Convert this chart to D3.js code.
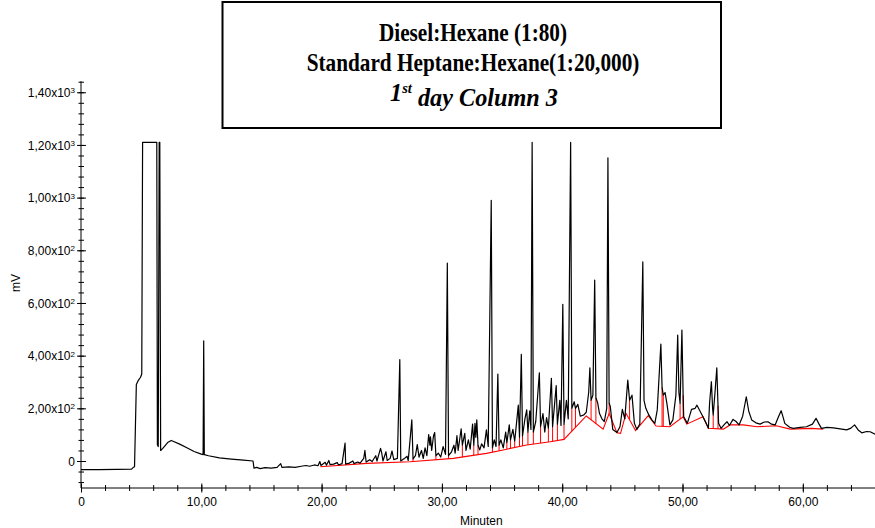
<!DOCTYPE html>
<html>
<head>
<meta charset="utf-8">
<script src="https://cdn.jsdelivr.net/npm/d3@7"></script>
<style>
  body { margin: 0; background: #fff; }
  svg { display: block; }
</style>
</head>
<body>
<div id="container"></div>
<script>
const width = 875,
  height = 528

// chromatogram trace [minutes, mV]
const signal = [
  [0, -33], [1.5, -33], [3, -32], [4.2, -31], [4.35, -24], [4.45, -22], [4.6, 290], [4.75, 305],
  [4.95, 318], [5.05, 330], [5.12, 1210], [6.3, 1210], [6.35, 62], [6.42, 55], [6.5, 1210],
  [6.55, 1210], [6.62, 40], [6.8, 48], [7.2, 70], [7.5, 78], [7.7, 74], [8.2, 64], [8.8, 50],
  [9.4, 36], [10.0, 26], [10.15, 24], [10.2, 456], [10.25, 24], [10.6, 20], [11.5, 12], [12.5, 7],
  [13.5, 3], [14.3, 0], [14.38, -27], [14.6, -24], [14.9, -29], [15.3, -25], [15.8, -27],
  [16.3, -24], [16.6, -10], [16.7, -24], [17.3, -22], [17.8, -24], [18.3, -20], [18.7, -17],
  [19.0, -20], [19.4, -15], [19.7, -18], [19.85, -2], [19.95, -17], [20.3, -5], [20.4, -16],
  [20.6, 2], [20.7, -14], [21.0, -12], [21.3, -6], [21.4, -15], [21.7, -10], [21.95, 68],
  [22.0, -12], [22.3, -8], [22.6, 0], [22.7, -10], [23.0, -4], [23.2, -8], [23.5, 10], [23.6, 40],
  [23.7, -4], [24.0, 5], [24.2, -2], [24.5, 20], [24.6, 0], [24.9, 48], [25.0, 30], [25.1, 0],
  [25.35, 35], [25.45, 2], [25.7, 10], [25.85, 38], [26.0, 5], [26.3, 10], [26.5, 385], [26.58, 0],
  [26.9, 10], [27.1, 18], [27.2, 2], [27.5, 156], [27.6, 8], [27.8, 20], [27.95, 62], [28.1, 15],
  [28.3, 40], [28.45, 10], [28.6, 50], [28.75, 20], [28.9, 100], [29.0, 60], [29.05, 92],
  [29.15, 40], [29.3, 95], [29.4, 108], [29.5, 20], [29.7, 30], [29.9, 15], [30.1, 55], [30.3, 25],
  [30.45, 751], [30.55, 20], [30.8, 35], [31.0, 60], [31.1, 30], [31.25, 96], [31.35, 40],
  [31.6, 122], [31.7, 60], [31.9, 105], [32.0, 40], [32.2, 80], [32.35, 45], [32.55, 140],
  [32.65, 60], [32.75, 143], [32.82, 90], [32.9, 156], [33.0, 60], [33.15, 42], [33.3, 65],
  [33.5, 50], [33.7, 118], [33.85, 55], [34.1, 990], [34.2, 50], [34.35, 80], [34.5, 55],
  [34.65, 330], [34.75, 60], [34.9, 80], [35.1, 50], [35.3, 110], [35.4, 70], [35.6, 137],
  [35.7, 80], [35.9, 120], [36.05, 75], [36.35, 212], [36.45, 90], [36.6, 405], [36.7, 95],
  [36.9, 160], [37.05, 194], [37.15, 110], [37.3, 190], [37.4, 120], [37.5, 1210], [37.6, 110],
  [37.8, 150], [38.1, 335], [38.2, 130], [38.4, 180], [38.55, 110], [38.7, 165], [38.85, 125],
  [39.1, 314], [39.2, 130], [39.5, 286], [39.6, 140], [39.8, 230], [39.9, 135], [40.05, 595],
  [40.15, 140], [40.35, 230], [40.5, 160], [40.7, 1210], [40.8, 200], [41.0, 225], [41.1, 200],
  [41.3, 215], [41.5, 170], [41.8, 175], [42.0, 185], [42.2, 260], [42.3, 354], [42.4, 230],
  [42.55, 250], [42.7, 687], [42.8, 240], [42.95, 220], [43.1, 180], [43.3, 160], [43.5, 150],
  [43.7, 200], [43.8, 1151], [43.9, 220], [44.0, 206], [44.2, 120], [44.55, 108], [44.8, 130],
  [45.0, 196], [45.2, 160], [45.45, 307], [45.6, 231], [45.8, 250], [46.0, 143], [46.2, 120],
  [46.45, 140], [46.7, 756], [46.8, 230], [46.95, 200], [47.2, 175], [47.45, 156], [47.7, 143],
  [47.9, 194], [48.2, 444], [48.3, 280], [48.4, 250], [48.55, 260], [48.7, 219], [48.95, 137],
  [49.2, 156], [49.45, 250], [49.6, 478], [49.7, 260], [49.8, 219], [49.95, 497], [50.05, 250],
  [50.1, 168], [50.4, 143], [50.75, 196], [51.05, 200], [51.2, 212], [51.45, 190], [51.7, 168],
  [52.0, 140], [52.15, 124], [52.25, 220], [52.4, 301], [52.5, 200], [52.55, 175], [52.7, 260],
  [52.85, 354], [52.95, 210], [53.0, 143], [53.2, 124], [53.5, 140], [53.7, 149], [53.9, 135],
  [54.2, 158], [54.45, 150], [54.7, 137], [55.0, 170], [55.3, 244], [55.5, 190], [55.75, 156],
  [56.1, 145], [56.45, 140], [56.8, 148], [57.1, 149], [57.4, 140], [57.7, 137], [57.95, 165],
  [58.2, 191], [58.4, 160], [58.5, 143], [58.9, 128], [59.2, 124], [59.8, 128], [60.3, 130],
  [60.8, 140], [61.1, 162], [61.35, 140], [61.55, 124], [62.0, 128], [62.55, 126], [63.1, 122],
  [63.65, 118], [64.0, 125], [64.3, 137], [64.6, 118], [64.9, 107], [65.3, 112], [65.6, 111],
  [66.0, 102]
]

// integration baseline (red) [minutes, mV]
const baseline = [
  [19.9, -22], [23.75, -9], [27.35, -3], [30.95, 10], [33.7, 29], [35.1, 42], [37.05, 61],
  [39.0, 73], [40.15, 82], [42.0, 171], [43.4, 121], [43.9, 180], [44.55, 107], [44.85, 105],
  [45.3, 181], [46.1, 116], [47.15, 172], [47.8, 133], [48.95, 130], [50.05, 168], [50.35, 140],
  [51.7, 168], [52.15, 124], [53.4, 121], [53.95, 137], [55.05, 137], [56.2, 130], [57.8, 134],
  [58.95, 121], [60.7, 124], [61.7, 121]
]

// red drop lines at peak boundaries (minutes)
const dropTimes = [27.6, 29.5, 30.55, 31.7, 32.65, 33.0, 34.2, 34.75, 35.4, 35.7, 36.05, 36.45,
  36.7, 37.15, 37.6, 38.2, 38.85, 39.2, 39.6, 40.15, 40.8, 41.1, 42.4, 42.8, 43.9, 45.2, 45.6,
  48.3, 48.4, 49.8, 50.05, 52.55, 52.95]

const xMajor = [0, 10, 20, 30, 40, 50, 60]
const xMinor = d3.range(0, 67, 2)
const yMajor = [0, 200, 400, 600, 800, 1000, 1200, 1400]
const yMinor = d3.range(-80, 1441, 40)

const titleLines = ["Diesel:Hexane (1:80)", "Standard Heptane:Hexane(1:20,000)"]

// SCALES
const xScale = d3.scaleLinear()
  .domain([0, 66])
  .range([81, 875])

const yScale = d3.scaleLinear()
  .domain([-102.5, 1442])
  .range([488, 81.2])

const svg = d3.select("#container")
  .append("svg")
  .attr("width", width)
  .attr("height", height)
  .style("background", "#fff")

// red integration marks first, trace on top
const valueAt = (series, t) => {
  const i = d3.bisector(d => d[0]).left(series, t)
  if (i <= 0) return series[0][1]
  if (i >= series.length) return series[series.length - 1][1]
  const a = series[i - 1], b = series[i]
  return a[1] + (b[1] - a[1]) * (t - a[0]) / (b[0] - a[0])
}

svg.append("g")
  .selectAll("line")
  .data(dropTimes)
  .join("line")
  .attr("x1", d => xScale(d))
  .attr("x2", d => xScale(d))
  .attr("y1", d => yScale(valueAt(baseline, d)))
  .attr("y2", d => yScale(valueAt(signal, d)))
  .attr("stroke", "#ff0000")
  .attr("stroke-width", 1)

const lineGen = d3.line()
  .x(d => xScale(d[0]))
  .y(d => yScale(d[1]))

svg.append("path")
  .datum(baseline)
  .attr("fill", "none")
  .attr("stroke", "#ff0000")
  .attr("stroke-width", 1.1)
  .attr("d", lineGen)

svg.append("path")
  .datum(signal)
  .attr("fill", "none")
  .attr("stroke", "#000")
  .attr("stroke-width", 1.2)
  .attr("stroke-linejoin", "round")
  .attr("d", lineGen)

// AXES
const fontFam = "'Liberation Sans', Arial, sans-serif"

const xMinorAxis = svg.append("g")
  .attr("transform", `translate(0,488)`)
  .call(d3.axisBottom(xScale).tickValues(xMinor).tickSize(0).tickFormat(""))
xMinorAxis.select(".domain").remove()
xMinorAxis.selectAll(".tick line").attr("y1", -3).attr("y2", 3).attr("stroke", "#000")

const xAxis = svg.append("g")
  .attr("transform", `translate(0,488)`)
  .call(d3.axisBottom(xScale).tickValues(xMajor).tickSizeOuter(0)
    .tickFormat(d => d === 0 ? "0" : d3.format(".2f")(d).replace(".", ",")))
xAxis.select(".domain").attr("d", `M${xScale(0)},0H${xScale(66)}`).attr("stroke", "#000")
xAxis.selectAll(".tick line").attr("y1", -4.5).attr("y2", 4.5).attr("stroke", "#000")
xAxis.selectAll(".tick text")
  .attr("y", 18).attr("dy", 0)
  .attr("fill", "#000")
  .style("font", `12px ${fontFam}`)

const yMinorAxis = svg.append("g")
  .attr("transform", `translate(81,0)`)
  .call(d3.axisLeft(yScale).tickValues(yMinor).tickSize(0).tickFormat(""))
yMinorAxis.select(".domain").remove()
yMinorAxis.selectAll(".tick line").attr("x1", -2.5).attr("x2", 3).attr("stroke", "#000")

const yAxis = svg.append("g")
  .attr("transform", `translate(81,0)`)
  .call(d3.axisLeft(yScale).tickValues(yMajor).tickSizeOuter(0))
yAxis.select(".domain").attr("d", `M0,${yScale(-102.5)}V${yScale(1442)}`).attr("stroke", "#000")
yAxis.selectAll(".tick line").attr("x1", -4).attr("x2", 5).attr("stroke", "#000")
yAxis.selectAll(".tick text")
  .attr("x", -6).attr("dy", "0.35em")
  .attr("fill", "#000")
  .style("font", `12px ${fontFam}`)
  .each(function (d) {
    const t = d3.select(this).text("")
    if (d === 0) { t.text("0"); return }
    const e = Math.floor(Math.log10(d))
    const m = (d / Math.pow(10, e)).toFixed(2).replace(".", ",")
    t.append("tspan").text(m + "x10")
    t.append("tspan").attr("dy", "-0.45em").style("font-size", "8px").text(e)
  })

svg.append("text")
  .attr("x", 460)
  .attr("y", 525)
  .style("font", `12px ${fontFam}`)
  .text("Minuten")

svg.append("text")
  .attr("transform", "translate(20,283) rotate(-90)")
  .attr("text-anchor", "middle")
  .style("font", `12px ${fontFam}`)
  .text("mV")

// TITLE BOX
svg.append("rect")
  .attr("x", 222.5)
  .attr("y", 2)
  .attr("width", 498.5)
  .attr("height", 126)
  .attr("fill", "#fff")
  .attr("stroke", "#000")
  .attr("stroke-width", 2)

const titleFont = g => g
  .style("font-family", "'Liberation Serif', 'Times New Roman', serif")
  .style("font-weight", "bold")
  .style("font-size", "25px")
  .attr("text-anchor", "middle")

const title = svg.append("g")
  .attr("transform", "translate(473,0) scale(0.85,1)")
  .call(titleFont)

titleLines.forEach((s, i) => {
  title.append("text").attr("x", 0).attr("y", 41 + i * 30).text(s)
})

const line3 = svg.append("g")
  .attr("transform", "translate(474,0) scale(0.97,1)")
  .call(titleFont)
  .append("text")
  .attr("x", 0).attr("y", 101)
  .style("font-style", "italic")
line3.append("tspan").text("1")
line3.append("tspan").attr("dy", "-0.5em").style("font-size", "15px").text("st")
line3.append("tspan").attr("dy", "0.5em").text(" day Column 3")
</script>
</body>
</html>
